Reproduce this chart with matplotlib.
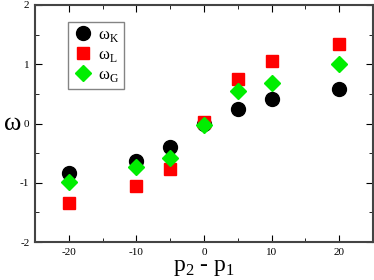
import numpy as np
import matplotlib
matplotlib.use('Agg')
import matplotlib.pyplot as plt
from matplotlib.ticker import MultipleLocator

# data
dp = [-20, -10, -5, 0, 5, 10, 20]
omega_K = [-0.83, -0.64, -0.40, 0.00, 0.25, 0.41, 0.58]
omega_L = [-1.34, -1.06, -0.77, 0.03, 0.75, 1.06, 1.35]
omega_G = [-0.98, -0.73, -0.59, -0.03, 0.55, 0.69, 1.01]

plt.rcParams['font.family'] = ['Liberation Serif', 'DejaVu Serif']
plt.rcParams['mathtext.fontset'] = 'custom'
plt.rcParams['mathtext.rm'] = 'Liberation Serif'
plt.rcParams['axes.unicode_minus'] = False

fig = plt.figure(figsize=(3.74, 2.80), dpi=100)
ax = fig.add_axes([35/374, 1 - 242/280, 338/374, 237/280])

ax.plot(dp, omega_K, 'o', color='black', markersize=10, label=r'ω$_\mathrm{K}$')
ax.plot(dp, omega_L, 's', color='red', markersize=9, label=r'ω$_\mathrm{L}$')
ax.plot(dp, omega_G, 'D', color='#00ee00', markersize=8, label=r'ω$_\mathrm{G}$')

ax.set_xlim(-25, 25)
ax.set_ylim(-2, 2)
ax.xaxis.set_major_locator(MultipleLocator(10))
ax.xaxis.set_minor_locator(MultipleLocator(5))
ax.yaxis.set_major_locator(MultipleLocator(1))
ax.yaxis.set_minor_locator(MultipleLocator(0.5))
ax.tick_params(which='both', direction='in', top=True, right=True, labelsize=8, pad=4)
ax.tick_params(which='major', length=5)
ax.tick_params(which='minor', length=3)
for s in ax.spines.values():
    s.set_color('#444444')
    s.set_linewidth(1.5)

ax.set_xlabel(r'p$_2$ - p$_1$', fontsize=17, labelpad=0)
ax.set_ylabel('ω', fontsize=19, rotation=0, ha='center', va='center')
ax.yaxis.set_label_coords(-22/338, 0.5)

leg = ax.legend(loc='upper left', bbox_to_anchor=(0.098, 0.93), fontsize=12,
                frameon=True, fancybox=False, handletextpad=0.3, borderpad=0.3,
                labelspacing=0.2, handlelength=1.2, borderaxespad=0)
leg.get_frame().set_edgecolor('#666666')
leg.get_frame().set_linewidth(1.0)

fig.savefig('out.png', dpi=100)
